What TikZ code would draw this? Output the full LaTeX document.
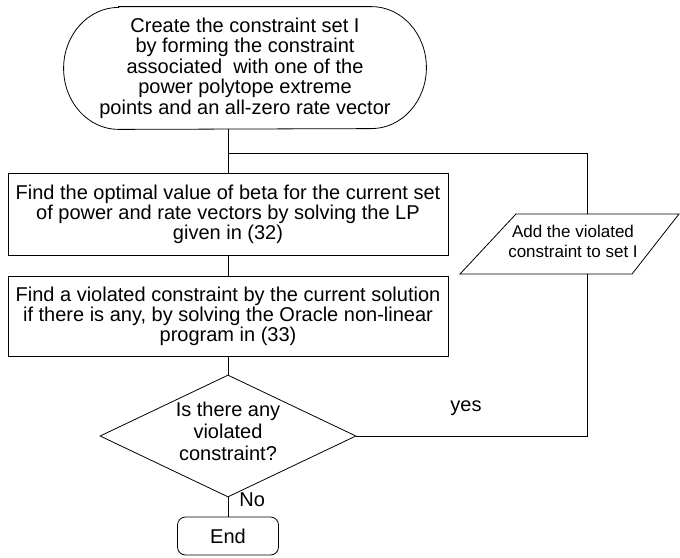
\documentclass[tikz,border=0pt]{standalone}
\usepackage{fontspec}
\setmainfont{Liberation Sans}
\usetikzlibrary{shapes.geometric}
\begin{document}
\begin{tikzpicture}[x=1pt,y=-1pt,line width=0.8pt,
  every node/.style={font=\fontsize{20}{20}\selectfont, align=center, inner sep=0pt},
  procbox/.style={draw, rectangle, minimum width=440pt},
  decbox/.style={draw, diamond, aspect=2.1, minimum width=256pt, minimum height=122pt},
  dectext/.style={font=\fontsize{20}{22}\selectfont},
  endbox/.style={draw, rectangle, rounded corners=8pt, minimum width=101pt, minimum height=38pt},
  iobox/.style={font=\fontsize{17}{20}\selectfont}]
\useasboundingbox (0,0) rectangle (680,557);

% start terminator
\node[minimum width=362pt, minimum height=122pt, font=\fontsize{20}{20.5}\selectfont] (start) at (245,68)
  {Create the constraint set I\\by forming the constraint\\associated~ with one of the\\power polytope extreme\\points and an all-zero rate vector};
\draw ([xshift=55pt]start.north west) -- ([xshift=-55pt]start.north east)
  arc[start angle=-90,end angle=90,x radius=55,y radius=61]
  -- ([xshift=55pt]start.south west)
  arc[start angle=90,end angle=270,x radius=55,y radius=61] -- cycle;

% process boxes
\node[procbox, minimum height=82pt] (box1) at (228,214)
  {Find the optimal value of beta for the current set\\of power and rate vectors by solving the LP\\given in (32)};
\node[procbox, minimum height=80pt] (box2) at (228,316)
  {Find a violated constraint by the current solution\\if there is any, by solving the Oracle non-linear\\program in (33)};

% decision
\node[decbox] (dec) at (228,436) {};
\node[dectext] (dectxt) at (228,431) {Is there any\\violated\\constraint?};

% end
\node[endbox] (end) at (228,536) {End};

% input/output parallelogram
\node[iobox] (add) at (573,241) {Add the violated\\constraint to set I};
\coordinate (pTL) at (516,214);
\coordinate (pTR) at (679,214);
\coordinate (pBR) at (632,274);
\coordinate (pBL) at (460,274);
\draw (pTL) -- (pTR) -- (pBR) -- (pBL) -- cycle;
\coordinate (pT) at (587,214);
\coordinate (pB) at (587,274);

% connectors
\coordinate (j) at (228,153);
\draw (start.south -| box1.north) -- (box1.north);
\draw (j) -| (pT);
\draw (box1.south) -- (box2.north);
\draw (box2.south) -- (dec.north);
\draw (dec.south) -- (end.north);
\draw (pB) |- (dec.east);

% labels
\node (yes) at (466,408) {yes};
\node[anchor=west] (no) at (239,500) {No};
\end{tikzpicture}
\end{document}
